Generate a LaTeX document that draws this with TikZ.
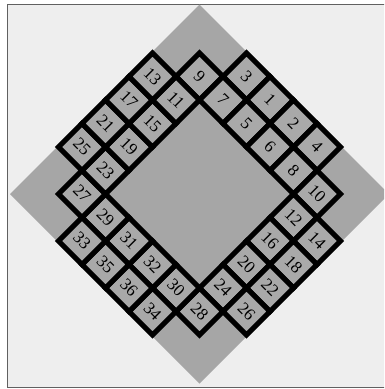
\documentclass[tikz,border=0pt]{standalone}
\usepackage{fontspec}
\setmainfont{Liberation Serif}
\definecolor{bgcol}{HTML}{EEEEEE}
\definecolor{diagcol}{HTML}{A6A6A6}
\definecolor{cellcol}{HTML}{A9A9A9}
\definecolor{framecol}{HTML}{606060}
\tikzset{
  cellbox/.style={draw=black, line width=5pt, fill=cellcol, minimum size=33.234pt,
    inner sep=0pt, outer sep=0pt, rotate=-45, font=\fontsize{17}{17}\selectfont},
  framebox/.style={draw=framecol, line width=1pt, fill=bgcol},
}
\begin{document}
\begin{tikzpicture}[x=1pt,y=-1pt]
\useasboundingbox (0,0) rectangle (384,389);
\clip (0,0) rectangle (384,389);
\draw[framebox] (7.5,4) rectangle (395,387.5);
\fill[diagcol] (199.5,4.5) -- (389,194) -- (199.5,383.5) -- (10,194) -- cycle;
\begin{scope}[shift={(199.5,194)}, x={(23.5pt,-23.5pt)}, y={(23.5pt,23.5pt)}]
\foreach \n/\u/\v in {9/-2.5/2.5, 3/-1.5/3.5, 7/-1.5/2.5, 1/-0.5/3.5, 5/-0.5/2.5,
  2/0.5/3.5, 6/0.5/2.5, 4/1.5/3.5, 8/1.5/2.5, 10/2.5/2.5, 12/2.5/1.5, 14/3.5/1.5,
  16/2.5/0.5, 18/3.5/0.5, 20/2.5/-0.5, 22/3.5/-0.5, 24/2.5/-1.5, 26/3.5/-1.5,
  28/2.5/-2.5, 30/1.5/-2.5, 34/1.5/-3.5, 32/0.5/-2.5, 36/0.5/-3.5, 31/-0.5/-2.5,
  35/-0.5/-3.5, 29/-1.5/-2.5, 33/-1.5/-3.5, 27/-2.5/-2.5, 23/-2.5/-1.5, 25/-3.5/-1.5,
  19/-2.5/-0.5, 21/-3.5/-0.5, 15/-2.5/0.5, 17/-3.5/0.5, 11/-2.5/1.5, 13/-3.5/1.5}
  \node[cellbox] (c\n) at (\u,\v) {\n};
\end{scope}
\end{tikzpicture}
\end{document}
